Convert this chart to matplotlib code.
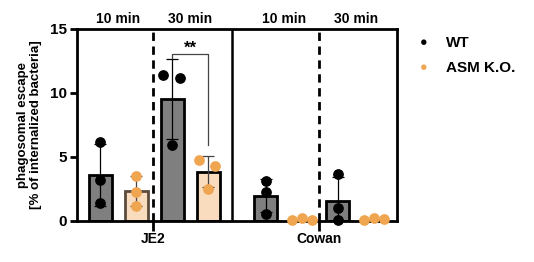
import numpy as np
import matplotlib.pyplot as plt

plt.rcParams['font.family'] = ['Liberation Sans', 'DejaVu Sans']
plt.rcParams['font.weight'] = 'bold'
plt.rcParams['axes.labelweight'] = 'bold'

# bar positions (JE2: 10/30 min, Cowan: 10/30 min)
pos_wt = [0.0, 2.0, 4.6, 6.6]
pos_ko = [1.0, 3.0, 5.6, 7.6]

# individual replicates
wt_pts = [[6.2, 3.2, 1.4], [11.4, 11.2, 5.9], [3.1, 2.3, 0.55], [3.7, 1.0, 0.1]]
ko_pts = [[3.5, 2.3, 1.2], [4.8, 4.3, 2.5], [0.05, 0.2, 0.1], [0.1, 0.25, 0.15]]
wt_jit = [[0, 0, 0], [-0.25, 0.22, 0], [0, 0, 0], [0, 0, 0]]
ko_jit = [[0, 0, 0], [-0.25, 0.2, 0], [-0.28, 0, 0.28], [-0.28, 0, 0.28]]

groups = ['JE2', 'Cowan']
times = ['10 min', '30 min', '10 min', '30 min']

wt_col = '#7f7f7f'
ko_fill = '#f8dcbd'
ko_dot = '#f0a550'

fig = plt.figure(figsize=(5.34, 2.62), dpi=100)
ax = fig.add_axes([77/534, 1 - 221/262, 320/534, 192/262])

w = 0.64
for i in range(4):
    m = np.mean(wt_pts[i]); s = np.std(wt_pts[i], ddof=1)
    ax.bar(pos_wt[i], m, w, color=wt_col, edgecolor='black', linewidth=2, zorder=2)
    ax.errorbar(pos_wt[i], m, yerr=s, color='black', lw=0.9, capsize=4, capthick=0.9, zorder=3)
    ax.scatter(np.array(pos_wt[i]) + np.array(wt_jit[i]), wt_pts[i], s=45, color='black', zorder=4, clip_on=False)

    m = np.mean(ko_pts[i]); s = np.std(ko_pts[i], ddof=1)
    if i < 2:
        ec = '#5a4b3c' if i == 0 else 'black'
        ax.bar(pos_ko[i], m, w, color=ko_fill, edgecolor=ec, linewidth=2, zorder=2)
        ax.errorbar(pos_ko[i], m, yerr=s, color='#444444', lw=0.9, capsize=4, capthick=0.9, zorder=3)
    ax.scatter(np.array(pos_ko[i]) + np.array(ko_jit[i]), ko_pts[i], s=45, color=ko_dot, zorder=4, clip_on=False)

# separators
ax.axvline(3.67, color='black', lw=1.8, zorder=1)
ax.axvline(1.47, color='black', lw=2, ls=(0, (3, 2)), zorder=1)
ax.axvline(6.08, color='black', lw=2, ls=(0, (3, 2)), zorder=1)

# significance bracket
ax.plot([2.0, 2.0, 3.0, 3.0], [12.75, 13.05, 13.05, 5.9], color='#444444', lw=0.9, zorder=3)
ax.text(2.5, 13.5, '**', ha='center', va='center', fontsize=12)

ax.set_xlim(-0.64, 8.25)
ax.set_ylim(0, 15)
ax.set_yticks([0, 5, 10, 15])
ax.set_xticks([1.47, 6.08])
ax.set_xticklabels(groups)
ax.tick_params(axis='both', width=2, length=5, labelsize=11, direction='out', pad=2)
ax.tick_params(axis='x', length=7, labelsize=10, pad=1)
for sp in ax.spines.values():
    sp.set_linewidth(2)

for i in range(4):
    ax.text((pos_wt[i] + pos_ko[i]) / 2, 15.2, times[i], ha='center', va='bottom', fontsize=10)

ax.set_ylabel('phagosomal escape\n[% of internalized bacteria]', fontsize=9.5, linespacing=1.05, labelpad=6)

# legend
fig.text(424/534, 1 - 43/262, '\u25cf', color='black', fontsize=9, ha='center', va='center')
fig.text(446/534, 1 - 43/262, 'WT', fontsize=11, va='center')
fig.text(424/534, 1 - 68/262, '\u25cf', color=ko_dot, fontsize=9, ha='center', va='center')
fig.text(446/534, 1 - 68/262, 'ASM K.O.', fontsize=11, va='center')

fig.savefig('out.png', dpi=100)
